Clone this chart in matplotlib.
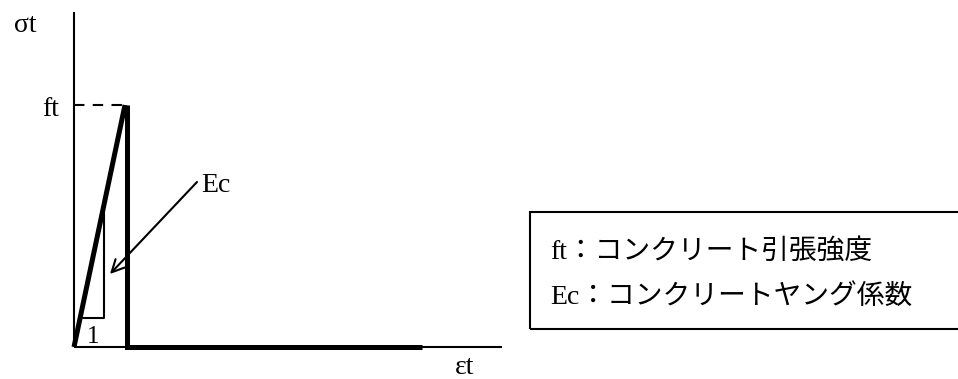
"""
引張応力-ひずみ関係（コンクリート）模式図
"""
import matplotlib
matplotlib.use('Agg')
import matplotlib.pyplot as plt
from matplotlib.patches import Rectangle

plt.rcParams['font.family'] = ['Liberation Serif', 'Noto Sans CJK JP']

# 模式図の値（原点 = 軸の交点）
eps_peak = 51        # ft に達するひずみ
eps_drop = 53        # 急落する位置
eps_end = 348        # 太線の終端
axis_x_end = 428     # 横軸の長さ
axis_y_end = 335     # 縦軸の長さ
ft = 242             # 引張強度

curve_x = [0, eps_peak, eps_drop, eps_drop, eps_end]
curve_y = [0, ft, ft, 0, 0]

# 勾配三角形
tri_x = [7, 30, 30]
tri_y = [29, 29, 139]

legend_lines = ['ft：コンクリート引張強度', 'Ec：コンクリートヤング係数']

fig = plt.figure(figsize=(9.58, 3.79), dpi=100)
ax = fig.add_axes([0, 0, 1, 1])
ax.set_xlim(-74, 884)
ax.set_ylim(-32, 347)
ax.axis('off')

# 軸
ax.plot([0, 0], [0, axis_y_end], color='black', lw=1.5, solid_capstyle='butt')
ax.plot([0, axis_x_end], [0, 0], color='black', lw=1.5, solid_capstyle='butt')

# 破線
ax.plot([0, eps_peak], [ft, ft], color='black', lw=1.5, ls=(0, (5, 4)))

# 応力-ひずみ曲線
ax.plot(curve_x[:2], curve_y[:2], color='black', lw=3.6, solid_capstyle='butt')
ax.plot(curve_x[2:], curve_y[2:], color='black', lw=3.6,
        solid_capstyle='butt', solid_joinstyle='miter')

# 勾配三角形
ax.plot(tri_x, tri_y, color='black', lw=1.5)
ax.text(19, 10, '1', fontsize=18, ha='center', va='center')

# Ec 矢印
ax.annotate('', xy=(36, 73), xytext=(123, 165),
            arrowprops=dict(arrowstyle='->', lw=1.5, color='black', mutation_scale=22,
                            shrinkA=0, shrinkB=0))
ax.text(127, 162, 'Ec', fontsize=20, ha='left', va='center')

# 軸ラベル
ax.text(-49, 322, 'σt', fontsize=20, ha='center', va='center')
ax.text(-15, 237, 'ft', fontsize=20, ha='right', va='center')
ax.text(391, -20, 'εt', fontsize=20, ha='center', va='center')

# 凡例ボックス
ax.add_patch(Rectangle((456, 18), 440, 117, fill=False, lw=1.5, edgecolor='black',
                       clip_on=True))
ax.text(476, 95, legend_lines[0], fontsize=20, ha='left', va='center')
ax.text(476, 50, legend_lines[1], fontsize=20, ha='left', va='center')

plt.savefig('out.png', dpi=100)
plt.close()
